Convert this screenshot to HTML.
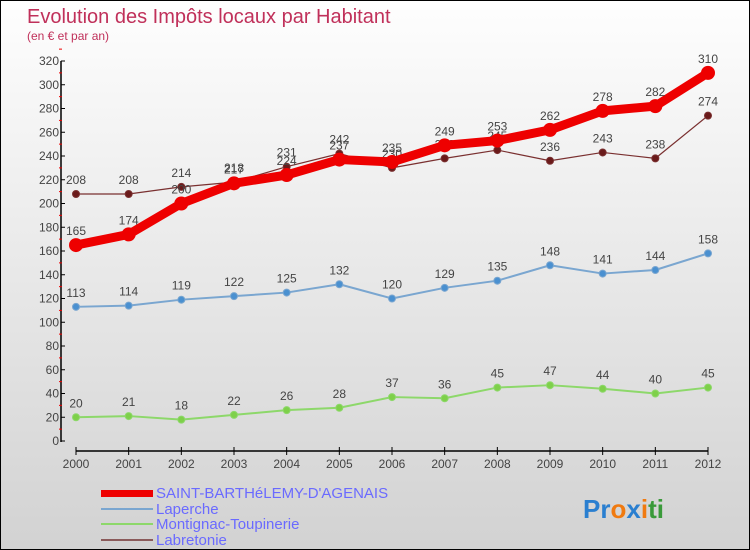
<!DOCTYPE html>
<html><head><meta charset="utf-8"><style>
body{margin:0;}
#c{width:750px;height:550px;position:relative;box-sizing:border-box;border:1px solid #000;background:linear-gradient(#fefefe,#d2d2d2);font-family:"Liberation Sans",sans-serif;overflow:hidden}
</style></head><body>
<div id="c">
<svg width="750" height="550" style="position:absolute;left:0;top:0" id="svg">
<text x="26" y="22" font-size="20" fill="#c0305a">Evolution des Impôts locaux par Habitant</text>
<text x="26" y="39" font-size="12" fill="#c0305a">(en € et par an)</text>
<g id="axes"></g><g id="series"></g>
<g>
<rect x="100" y="489" width="52" height="7" fill="#e00"/>
<text x="155" y="497" font-size="15" fill="#6a6aff">SAINT-BARTHéLEMY-D'AGENAIS</text>
<rect x="100" y="507" width="52" height="2" fill="#7aa6d0"/>
<text x="155" y="513" font-size="15" fill="#6a6aff">Laperche</text>
<rect x="100" y="522" width="52" height="2" fill="#8dd86a"/>
<text x="155" y="528" font-size="15" fill="#6a6aff">Montignac-Toupinerie</text>
<rect x="100" y="538" width="52" height="2" fill="#8a5a5a"/>
<text x="155" y="544" font-size="15" fill="#6a6aff">Labretonie</text>
</g>
<text x="582" y="517" font-size="26" font-weight="bold"><tspan fill="#2a7fd0">Pr</tspan><tspan fill="#f07a10">o</tspan><tspan fill="#2a7fd0">x</tspan><tspan fill="#f07a10">i</tspan><tspan fill="#3a9a3a">ti</tspan></text>
</svg>
</div>
<script>
const years=[2000,2001,2002,2003,2004,2005,2006,2007,2008,2009,2010,2011,2012];
const yTicks=[0,20,40,60,80,100,120,140,160,180,200,220,240,260,280,300,320];
const saint=[165,174,200,217,224,237,235,249,253,262,278,282,310];
const laperche=[113,114,119,122,125,132,120,129,135,148,141,144,158];
const montignac=[20,21,18,22,26,28,37,36,45,47,44,40,45];
const labretonie=[208,208,214,218,231,242,230,238,245,236,243,238,274];
const NS="http://www.w3.org/2000/svg";
const x=i=>75+i*(707-75)/(years.length-1);
const y=v=>440-v*380/320;
function mk(t,a,p){const e=document.createElementNS(NS,t);for(const k in a)e.setAttribute(k,a[k]);p.appendChild(e);return e;}
const ax=document.getElementById('axes'),sg=document.getElementById('series');
const yl=mk('line',{x1:60,y1:y(320),x2:60,y2:441,stroke:'#000','stroke-width':1.5},ax);


yTicks.forEach(v=>{
 mk('line',{x1:60,x2:64,y1:y(v),y2:y(v),stroke:'#000'},ax);
 mk('line',{x1:58,x2:61,y1:y(v+10),y2:y(v+10),stroke:'#e00'},ax);
 const t=mk('text',{x:58,y:y(v)+4,'font-size':12,'text-anchor':'end',fill:'#444'},ax);
 t.textContent=v;
 
 
});
const xl=mk('line',{x1:75,y1:450,x2:707,y2:450,stroke:'#000','stroke-width':1.5},ax);


years.forEach((yr,i)=>{
 mk('line',{x1:x(i),x2:x(i),y1:446,y2:454,stroke:'#000'},ax);
 const t=mk('text',{x:x(i),y:467,'font-size':12,'text-anchor':'middle',fill:'#444'},ax);
 t.textContent=yr;
 
 
});
function series(d,col,w,r,name,dot){
 const g=mk('g',{},sg);
 
 
 mk('polyline',{points:d.map((v,i)=>x(i)+','+y(v)).join(' '),fill:'none',stroke:col,'stroke-width':w,'stroke-linejoin':'round'},g);
 d.forEach((v,i)=>{
  const c=mk('circle',{cx:x(i),cy:y(v),r:r,fill:dot,stroke:col,'stroke-width':1},g);
  
  
  const t=mk('text',{x:x(i),y:y(v)-10,'font-size':12,'text-anchor':'middle',fill:'#444'},g);
  t.textContent=v;
  
  
 });
}
series(montignac,'#8dd86a',2,3.5,'montignac','#7ed04a');
series(laperche,'#7aa6d0',2,3.5,'laperche','#4a90d0');
series(labretonie,'#7a3030',1.2,3.5,'labretonie','#6a1a1a');
series(saint,'#ee0000',9,6.5,'saint-barthelemy','#ee0000');
</script>
</body></html>
